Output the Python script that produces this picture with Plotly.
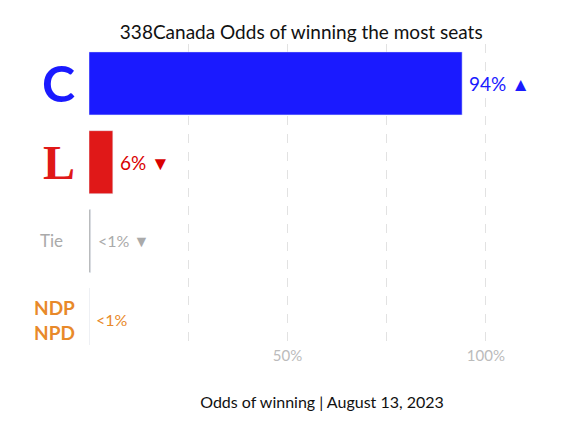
import plotly.graph_objects as go

parties = ["CPC", "LPC", "Tie", "NDP"]
odds = [94, 6, 0.4, 0.1]
value_labels = ["94% ▲", "6% ▼", "<1% ▼", "<1%"]
colors = ["#1a1aff", "#e01818", "#aaaaaa", "#f6e6d6"]
label_colors = ["#1a1aff", "#d90000", "#aaaaaa", "#e8892a"]
logo_text = ["<b>C</b>", "<b>L</b>", "Tie", "<b>NDP<br>NPD</b>"]
logo_sizes = [50, 48, 17, 19]
logo_colors = ["#1a1aff", "#e01818", "#aaaaaa", "#e8892a"]
logo_fonts = ["Lato", "Liberation Serif", "Lato", "Lato"]
ticks = [25, 50, 75, 100]
tick_text = ["", "50%", "", "100%"]

ys = list(range(len(parties)))
fig = go.Figure(go.Bar(x=odds, y=ys, orientation="h", marker_color=colors,
                       width=0.8, hoverinfo="skip"))
for i in ys:
    fig.add_annotation(x=odds[i], y=i, text=value_labels[i], showarrow=False,
                       xanchor="left", xshift=5, font=dict(size=19 if i < 2 else 16, color=label_colors[i], family="Lato"))
    fig.add_annotation(x=0, y=i, text=logo_text[i], showarrow=False, xanchor="right",
                       xref="x", xshift=-12 if i != 2 else -24, align="center",
                       font=dict(size=logo_sizes[i], color=logo_colors[i], family=logo_fonts[i]))
fig.update_layout(
    width=575, height=432, plot_bgcolor="white", paper_bgcolor="white",
    margin=dict(l=81, r=28, t=36, b=95, autoexpand=False), showlegend=False,
    title=dict(text="338Canada Odds of winning the most seats", x=0.51, y=0.96,
               xanchor="center", font=dict(size=19, color="#111", family="Lato")),
    font=dict(family="Lato"),
)
fig.update_xaxes(range=[0, 117.4], tickvals=ticks, ticktext=tick_text, showgrid=True,
                 gridcolor="#e2e2e2", griddash="dash", zeroline=False,
                 tickfont=dict(size=15, color="#bbbbbb"),
                 title=dict(text="Odds of winning | August 13, 2023", font=dict(size=16, color="#111"), standoff=33))
fig.update_yaxes(range=[3.32, -0.5], showticklabels=False, showgrid=False, zeroline=False)
fig.write_html("out.html")
